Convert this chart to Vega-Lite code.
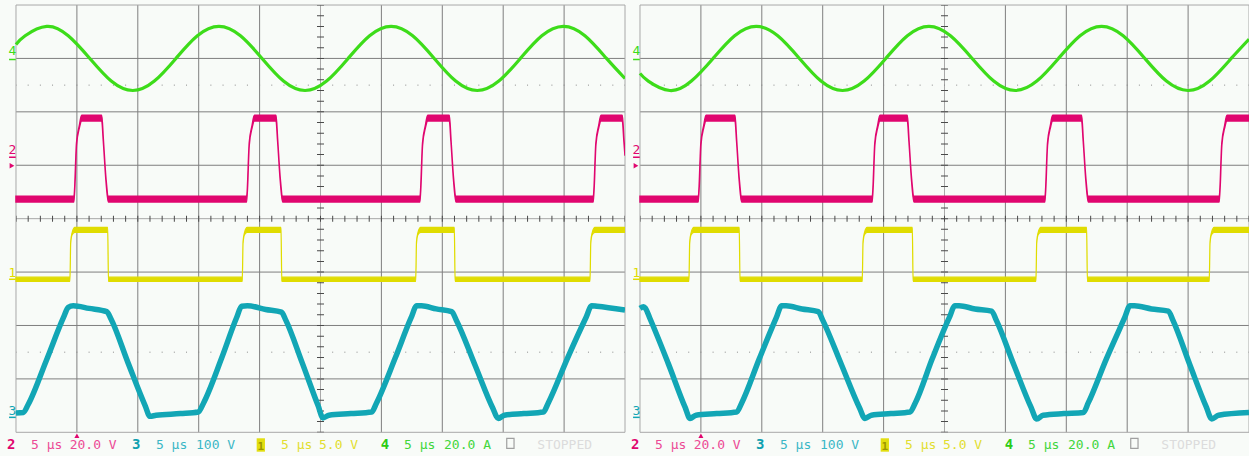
{
"$schema": "https://vega.github.io/schema/vega-lite/v6.json",
"background": "#f8fbf8",
"padding": 0,
"spacing": 0,
"bounds": "flush",
"config": {"view": {"stroke": null}, "concat": {"spacing": 0}},
"datasets": {
"vl": [{"t":5},{"t":10},{"t":15},{"t":20},{"t":30},{"t":35},{"t":40},{"t":45}],
"hl": [{"v":1},{"v":2},{"v":3},{"v":5},{"v":6},{"v":7}],
"fv": [{"t":0},{"t":25},{"t":50}],
"fh": [{"v":0},{"v":4},{"v":8}],
"dots": [{"v":1.5},{"v":6.5}],
"cv": [{"v":4}],
"ct": [{"t":25}],
"chm": [{"ch":"4","txt":"4","v":7.06,"g":6.98},{"ch":"2","txt":"2","v":5.21,"g":5.15},{"ch":"1","txt":"1","v":2.9,"g":2.865},{"ch":"3","txt":"3","v":0.32,"g":0.28}],
"trig": [{"kind":"level","t":-0.33,"v":4.99},{"kind":"pos","t":5,"v":-0.064}],
"nums": [{"t":-0.74,"txt":"2","ch":"2"},{"t":9.52,"txt":"3","ch":"3"},{"t":29.94,"txt":"4","ch":"4"}],
"info": [{"t":1.23,"txt":"5 μs","ch":"2"},{"t":4.41,"txt":"20.0 V","ch":"2"},{"t":11.49,"txt":"5 μs","ch":"3"},{"t":14.78,"txt":"100 V","ch":"3"},{"t":21.76,"txt":"5 μs","ch":"1"},{"t":24.88,"txt":"5.0 V","ch":"1"},{"t":31.86,"txt":"5 μs","ch":"4"},{"t":35.14,"txt":"20.0 A","ch":"4"},{"t":42.8,"txt":"STOPPED","ch":"s"}],
"box1": [{"t":19.76,"t2":20.44,"v":-0.112,"v2":-0.363}],
"box2": [{"t":40.29,"t2":40.89,"v":-0.112,"v2":-0.3}],
"L4": [{"t":0,"v":7.263},{"t":0.75,"v":7.424},{"t":2.52,"v":7.6},{"t":4.29,"v":7.424},{"t":6.06,"v":7.0},{"t":7.82,"v":6.576},{"t":9.59,"v":6.4},{"t":11.36,"v":6.576},{"t":13.13,"v":7.0},{"t":14.89,"v":7.424},{"t":16.66,"v":7.6},{"t":18.43,"v":7.424},{"t":20.2,"v":7.0},{"t":21.96,"v":6.576},{"t":23.73,"v":6.4},{"t":25.5,"v":6.576},{"t":27.27,"v":7.0},{"t":29.03,"v":7.424},{"t":30.8,"v":7.6},{"t":32.57,"v":7.424},{"t":34.34,"v":7.0},{"t":36.1,"v":6.576},{"t":37.87,"v":6.4},{"t":39.64,"v":6.576},{"t":41.41,"v":7.0},{"t":43.17,"v":7.424},{"t":44.94,"v":7.6},{"t":46.71,"v":7.424},{"t":48.48,"v":7.0},{"t":50,"v":6.624}],
"R4": [{"t":0,"v":6.72},{"t":0.68,"v":6.576},{"t":2.45,"v":6.4},{"t":4.22,"v":6.576},{"t":6.0,"v":7.0},{"t":7.77,"v":7.424},{"t":9.54,"v":7.6},{"t":11.31,"v":7.424},{"t":13.09,"v":7.0},{"t":14.86,"v":6.576},{"t":16.63,"v":6.4},{"t":18.4,"v":6.576},{"t":20.18,"v":7.0},{"t":21.95,"v":7.424},{"t":23.72,"v":7.6},{"t":25.49,"v":7.424},{"t":27.27,"v":7.0},{"t":29.04,"v":6.576},{"t":30.81,"v":6.4},{"t":32.58,"v":6.576},{"t":34.36,"v":7.0},{"t":36.13,"v":7.424},{"t":37.9,"v":7.6},{"t":39.67,"v":7.424},{"t":41.45,"v":7.0},{"t":43.22,"v":6.576},{"t":44.99,"v":6.4},{"t":46.76,"v":6.576},{"t":48.54,"v":7.0},{"t":50,"v":7.36}],
"L2": [{"t":0,"lo":4.31,"hi":4.42},{"t":4.76,"lo":4.31,"hi":4.42},{"t":4.97,"lo":5.38,"hi":5.42},{"t":5.2,"lo":5.7,"hi":5.74},{"t":5.39,"lo":5.83,"hi":5.935},{"t":7.04,"lo":5.83,"hi":5.935},{"t":7.17,"lo":5.45,"hi":5.49},{"t":7.39,"lo":4.7,"hi":4.74},{"t":7.58,"lo":4.31,"hi":4.42},{"t":18.94,"lo":4.31,"hi":4.42},{"t":19.15,"lo":5.38,"hi":5.42},{"t":19.38,"lo":5.7,"hi":5.74},{"t":19.57,"lo":5.83,"hi":5.935},{"t":21.35,"lo":5.83,"hi":5.935},{"t":21.48,"lo":5.45,"hi":5.49},{"t":21.7,"lo":4.7,"hi":4.74},{"t":21.89,"lo":4.31,"hi":4.42},{"t":33.17,"lo":4.31,"hi":4.42},{"t":33.38,"lo":5.38,"hi":5.42},{"t":33.61,"lo":5.7,"hi":5.74},{"t":33.8,"lo":5.83,"hi":5.935},{"t":35.58,"lo":5.83,"hi":5.935},{"t":35.71,"lo":5.45,"hi":5.49},{"t":35.93,"lo":4.7,"hi":4.74},{"t":36.12,"lo":4.31,"hi":4.42},{"t":47.4,"lo":4.31,"hi":4.42},{"t":47.61,"lo":5.38,"hi":5.42},{"t":47.84,"lo":5.7,"hi":5.74},{"t":48.03,"lo":5.83,"hi":5.935},{"t":49.78,"lo":5.83,"hi":5.935},{"t":49.91,"lo":5.45,"hi":5.49},{"t":50,"lo":5.18,"hi":5.22}],
"R2": [{"t":0,"lo":4.31,"hi":4.42},{"t":4.79,"lo":4.31,"hi":4.42},{"t":5.0,"lo":5.38,"hi":5.42},{"t":5.23,"lo":5.7,"hi":5.74},{"t":5.42,"lo":5.83,"hi":5.935},{"t":7.8,"lo":5.83,"hi":5.935},{"t":7.93,"lo":5.45,"hi":5.49},{"t":8.15,"lo":4.7,"hi":4.74},{"t":8.34,"lo":4.31,"hi":4.42},{"t":19.07,"lo":4.31,"hi":4.42},{"t":19.28,"lo":5.38,"hi":5.42},{"t":19.51,"lo":5.7,"hi":5.74},{"t":19.7,"lo":5.83,"hi":5.935},{"t":21.95,"lo":5.83,"hi":5.935},{"t":22.08,"lo":5.45,"hi":5.49},{"t":22.3,"lo":4.7,"hi":4.74},{"t":22.49,"lo":4.31,"hi":4.42},{"t":33.25,"lo":4.31,"hi":4.42},{"t":33.46,"lo":5.38,"hi":5.42},{"t":33.69,"lo":5.7,"hi":5.74},{"t":33.88,"lo":5.83,"hi":5.935},{"t":36.26,"lo":5.83,"hi":5.935},{"t":36.39,"lo":5.45,"hi":5.49},{"t":36.61,"lo":4.7,"hi":4.74},{"t":36.8,"lo":4.31,"hi":4.42},{"t":47.56,"lo":4.31,"hi":4.42},{"t":47.77,"lo":5.38,"hi":5.42},{"t":48.0,"lo":5.7,"hi":5.74},{"t":48.19,"lo":5.83,"hi":5.935},{"t":50,"lo":5.83,"hi":5.935}],
"L1": [{"t":0,"lo":2.825,"hi":2.905},{"t":4.43,"lo":2.825,"hi":2.905},{"t":4.49,"lo":3.535,"hi":3.565},{"t":4.61,"lo":3.7,"hi":3.74},{"t":4.83,"lo":3.745,"hi":3.835},{"t":7.53,"lo":3.745,"hi":3.835},{"t":7.59,"lo":2.825,"hi":2.905},{"t":18.58,"lo":2.825,"hi":2.905},{"t":18.64,"lo":3.535,"hi":3.565},{"t":18.76,"lo":3.7,"hi":3.74},{"t":18.98,"lo":3.745,"hi":3.835},{"t":21.76,"lo":3.745,"hi":3.835},{"t":21.82,"lo":2.825,"hi":2.905},{"t":32.82,"lo":2.825,"hi":2.905},{"t":32.88,"lo":3.535,"hi":3.565},{"t":33.0,"lo":3.7,"hi":3.74},{"t":33.22,"lo":3.745,"hi":3.835},{"t":35.99,"lo":3.745,"hi":3.835},{"t":36.05,"lo":2.825,"hi":2.905},{"t":47.13,"lo":2.825,"hi":2.905},{"t":47.19,"lo":3.535,"hi":3.565},{"t":47.31,"lo":3.7,"hi":3.74},{"t":47.53,"lo":3.745,"hi":3.835},{"t":50,"lo":3.745,"hi":3.835}],
"R1": [{"t":0,"lo":2.825,"hi":2.905},{"t":4.02,"lo":2.825,"hi":2.905},{"t":4.08,"lo":3.535,"hi":3.565},{"t":4.2,"lo":3.7,"hi":3.74},{"t":4.42,"lo":3.745,"hi":3.835},{"t":8.15,"lo":3.745,"hi":3.835},{"t":8.21,"lo":2.825,"hi":2.905},{"t":18.25,"lo":2.825,"hi":2.905},{"t":18.31,"lo":3.535,"hi":3.565},{"t":18.43,"lo":3.7,"hi":3.74},{"t":18.65,"lo":3.745,"hi":3.835},{"t":22.36,"lo":3.745,"hi":3.835},{"t":22.42,"lo":2.825,"hi":2.905},{"t":32.51,"lo":2.825,"hi":2.905},{"t":32.57,"lo":3.535,"hi":3.565},{"t":32.69,"lo":3.7,"hi":3.74},{"t":32.91,"lo":3.745,"hi":3.835},{"t":36.67,"lo":3.745,"hi":3.835},{"t":36.73,"lo":2.825,"hi":2.905},{"t":46.74,"lo":2.825,"hi":2.905},{"t":46.8,"lo":3.535,"hi":3.565},{"t":46.92,"lo":3.7,"hi":3.74},{"t":47.14,"lo":3.745,"hi":3.835},{"t":50,"lo":3.745,"hi":3.835}],
"L3": [{"t":0,"v":0.36},{"t":0.6,"v":0.37},{"t":1.0,"v":0.52},{"t":2.5,"v":1.35},{"t":3.9,"v":2.15},{"t":4.29,"v":2.34},{"t":4.7,"v":2.37},{"t":6.0,"v":2.32},{"t":7.45,"v":2.26},{"t":7.8,"v":2.12},{"t":9.2,"v":1.3},{"t":10.6,"v":0.5},{"t":11.0,"v":0.3},{"t":11.5,"v":0.32},{"t":13.5,"v":0.35},{"t":14.97,"v":0.38},{"t":15.4,"v":0.55},{"t":16.9,"v":1.4},{"t":18.1,"v":2.14},{"t":18.53,"v":2.36},{"t":19.0,"v":2.37},{"t":20.5,"v":2.3},{"t":21.8,"v":2.25},{"t":22.15,"v":2.1},{"t":23.5,"v":1.3},{"t":24.8,"v":0.5},{"t":25.2,"v":0.27},{"t":25.7,"v":0.32},{"t":27.5,"v":0.35},{"t":29.2,"v":0.38},{"t":29.6,"v":0.55},{"t":31.15,"v":1.4},{"t":32.45,"v":2.15},{"t":32.9,"v":2.37},{"t":33.3,"v":2.37},{"t":34.5,"v":2.31},{"t":35.77,"v":2.26},{"t":36.15,"v":2.1},{"t":37.7,"v":1.25},{"t":39.15,"v":0.45},{"t":39.6,"v":0.26},{"t":40.1,"v":0.32},{"t":41.7,"v":0.35},{"t":43.3,"v":0.38},{"t":43.7,"v":0.55},{"t":45.3,"v":1.4},{"t":46.8,"v":2.15},{"t":47.27,"v":2.37},{"t":47.7,"v":2.36},{"t":50,"v":2.29}],
"R3": [{"t":0,"v":2.32},{"t":0.3,"v":2.35},{"t":0.45,"v":2.32},{"t":0.8,"v":2.14},{"t":2.3,"v":1.3},{"t":3.7,"v":0.47},{"t":4.11,"v":0.26},{"t":4.6,"v":0.32},{"t":6.3,"v":0.35},{"t":7.94,"v":0.38},{"t":8.35,"v":0.55},{"t":9.8,"v":1.38},{"t":11.2,"v":2.15},{"t":11.63,"v":2.37},{"t":12.0,"v":2.37},{"t":13.3,"v":2.31},{"t":14.64,"v":2.26},{"t":15.0,"v":2.1},{"t":16.55,"v":1.26},{"t":18.0,"v":0.47},{"t":18.47,"v":0.26},{"t":19.0,"v":0.32},{"t":20.6,"v":0.35},{"t":22.17,"v":0.38},{"t":22.6,"v":0.55},{"t":24.0,"v":1.38},{"t":25.4,"v":2.15},{"t":25.86,"v":2.37},{"t":26.2,"v":2.37},{"t":27.5,"v":2.31},{"t":28.87,"v":2.27},{"t":29.25,"v":2.1},{"t":30.7,"v":1.26},{"t":32.1,"v":0.47},{"t":32.57,"v":0.25},{"t":33.1,"v":0.32},{"t":34.8,"v":0.35},{"t":36.4,"v":0.37},{"t":36.8,"v":0.55},{"t":38.3,"v":1.38},{"t":39.8,"v":2.15},{"t":40.23,"v":2.37},{"t":40.6,"v":2.37},{"t":42.0,"v":2.31},{"t":43.38,"v":2.27},{"t":43.75,"v":2.1},{"t":45.15,"v":1.26},{"t":46.5,"v":0.47},{"t":46.94,"v":0.25},{"t":47.5,"v":0.32},{"t":50,"v":0.37}]
},
"hconcat": [
{
"width": 625, "height": 456,
"resolve": {"scale": {"color": "independent"}},
"layer": [
 {"data":{"name":"vl"},"mark":{"type":"rule","color":"#7f7f7f","strokeWidth":1},"encoding":{"x":{"field":"t","type":"quantitative","scale":{"domain":[-1.3136,50],"nice":false,"zero":false},"axis":null},"y":{"datum":0,"type":"quantitative","scale":{"domain":[-0.4437,8.094],"nice":false,"zero":false},"axis":null},"y2":{"datum":8}}},
 {"data":{"name":"hl"},"mark":{"type":"rule","color":"#7f7f7f","strokeWidth":1},"encoding":{"x":{"datum":0,"type":"quantitative","axis":null},"x2":{"datum":50},"y":{"field":"v","type":"quantitative","axis":null}}},
 {"data":{"name":"fv"},"mark":{"type":"rule","color":"#a8a8a8","strokeWidth":1},"encoding":{"x":{"field":"t","type":"quantitative","axis":null},"y":{"datum":0,"type":"quantitative","axis":null},"y2":{"datum":8}}},
 {"data":{"name":"fh"},"mark":{"type":"rule","color":"#a8a8a8","strokeWidth":1},"encoding":{"x":{"datum":0,"type":"quantitative","axis":null},"x2":{"datum":50},"y":{"field":"v","type":"quantitative","axis":null}}},
 {"data":{"name":"dots"},"mark":{"type":"rule","color":"#8a8a8a","strokeWidth":1,"strokeDash":[1,11.18],"strokeDashOffset":0.5},"encoding":{"x":{"datum":0,"type":"quantitative","axis":null},"x2":{"datum":50},"y":{"field":"v","type":"quantitative","axis":null}}},
 {"data":{"name":"cv"},"mark":{"type":"rule","color":"#4a4a4a","strokeWidth":6,"strokeDash":[1,11.18],"strokeDashOffset":0.5},"encoding":{"x":{"datum":0,"type":"quantitative","axis":null},"x2":{"datum":50},"y":{"field":"v","type":"quantitative","axis":null}}},
 {"data":{"name":"ct"},"mark":{"type":"rule","color":"#4a4a4a","strokeWidth":7,"strokeDash":[1,9.682],"strokeDashOffset":0.5},"encoding":{"x":{"field":"t","type":"quantitative","axis":null},"y":{"datum":0,"type":"quantitative","axis":null},"y2":{"datum":8}}},
 {"data":{"name":"L4"},"mark":{"type":"line","color":"#3ddc1a","strokeWidth":3.2,"interpolate":"natural","clip":true},"encoding":{"x":{"field":"t","type":"quantitative","axis":null},"y":{"field":"v","type":"quantitative","axis":null}}},
 {"data":{"name":"L2"},"mark":{"type":"area","color":"#e0066f","stroke":"#e0066f","strokeWidth":1.5,"opacity":1,"fillOpacity":1,"interpolate":"monotone","clip":true},"encoding":{"x":{"field":"t","type":"quantitative","axis":null},"y":{"field":"lo","type":"quantitative","axis":null},"y2":{"field":"hi"}}},
 {"data":{"name":"L1"},"mark":{"type":"area","color":"#e0dc00","stroke":"#e0dc00","strokeWidth":1.2,"opacity":1,"fillOpacity":1,"interpolate":"monotone","clip":true},"encoding":{"x":{"field":"t","type":"quantitative","axis":null},"y":{"field":"lo","type":"quantitative","axis":null},"y2":{"field":"hi"}}},
 {"data":{"name":"L3"},"mark":{"type":"line","color":"#12a6b5","strokeWidth":5.5,"interpolate":"monotone","clip":true},"encoding":{"x":{"field":"t","type":"quantitative","axis":null},"y":{"field":"v","type":"quantitative","axis":null}}},
 {"data":{"name":"chm"},"mark":{"type":"text","font":"DejaVu Sans Mono","fontSize":13,"align":"center","baseline":"alphabetic"},"encoding":{"x":{"datum":-0.29,"type":"quantitative","axis":null},"y":{"field":"v","type":"quantitative","axis":null},"text":{"field":"txt"},"color":{"field":"ch","type":"nominal","scale":{"domain":["1","2","3","4"],"range":["#e0dc00","#e0066f","#12a6b5","#3ddc1a"]},"legend":null}}},
 {"data":{"name":"chm"},"mark":{"type":"rule","strokeWidth":1.5},"encoding":{"x":{"datum":-0.57,"type":"quantitative","axis":null},"x2":{"datum":-0.02},"y":{"field":"g","type":"quantitative","axis":null},"color":{"field":"ch","type":"nominal","scale":{"domain":["1","2","3","4"],"range":["#e0dc00","#e0066f","#12a6b5","#3ddc1a"]},"legend":null}}},
 {"data":{"name":"trig"},"transform":[{"filter":"datum.kind == 'level'"}],"mark":{"type":"point","shape":"triangle-right","filled":true,"size":30,"color":"#e0066f","opacity":1},"encoding":{"x":{"field":"t","type":"quantitative","axis":null},"y":{"field":"v","type":"quantitative","axis":null}}},
 {"data":{"name":"trig"},"transform":[{"filter":"datum.kind == 'pos'"}],"mark":{"type":"point","shape":"triangle-up","filled":true,"size":25,"color":"#e0066f","opacity":1},"encoding":{"x":{"field":"t","type":"quantitative","axis":null},"y":{"field":"v","type":"quantitative","axis":null}}},
 {"data":{"name":"nums"},"mark":{"type":"text","font":"DejaVu Sans Mono","fontSize":14,"fontWeight":"bold","align":"left","baseline":"alphabetic"},"encoding":{"x":{"field":"t","type":"quantitative","axis":null},"y":{"datum":-0.31,"type":"quantitative","axis":null},"text":{"field":"txt"},"color":{"field":"ch","type":"nominal","scale":{"domain":["1","2","3","4"],"range":["#e0dc00","#e0066f","#0fa0b0","#2ccc14"]},"legend":null}}},
 {"data":{"name":"info"},"mark":{"type":"text","font":"DejaVu Sans Mono","fontSize":13,"align":"left","baseline":"alphabetic"},"encoding":{"x":{"field":"t","type":"quantitative","axis":null},"y":{"datum":-0.305,"type":"quantitative","axis":null},"text":{"field":"txt"},"color":{"field":"ch","type":"nominal","scale":{"domain":["1","2","3","4","s"],"range":["#e2de30","#ec4a95","#3ab7c6","#42d63c","#dcdcdc"]},"legend":null}}},
 {"data":{"name":"box1"},"mark":{"type":"rect","color":"#e2de10"},"encoding":{"x":{"field":"t","type":"quantitative","axis":null},"x2":{"field":"t2"},"y":{"field":"v","type":"quantitative","axis":null},"y2":{"field":"v2"}}},
 {"data":{"name":"box1"},"mark":{"type":"text","font":"DejaVu Sans Mono","fontSize":11,"fontWeight":"bold","align":"center","baseline":"alphabetic","color":"#9c9600"},"encoding":{"x":{"datum":20.1,"type":"quantitative","axis":null},"y":{"datum":-0.33,"type":"quantitative","axis":null},"text":{"value":"1"}}},
 {"data":{"name":"box2"},"mark":{"type":"rect","filled":false,"color":"#a0a0a0","strokeWidth":1.2},"encoding":{"x":{"field":"t","type":"quantitative","axis":null},"x2":{"field":"t2"},"y":{"field":"v","type":"quantitative","axis":null},"y2":{"field":"v2"}}}
]
},
{
"width": 624, "height": 456,
"resolve": {"scale": {"color": "independent"}},
"layer": [
 {"data":{"name":"vl"},"mark":{"type":"rule","color":"#7f7f7f","strokeWidth":1,"clip":true},"encoding":{"x":{"field":"t","type":"quantitative","scale":{"domain":[-1.2315,50],"nice":false,"zero":false},"axis":null},"y":{"datum":0,"type":"quantitative","scale":{"domain":[-0.4437,8.094],"nice":false,"zero":false},"axis":null},"y2":{"datum":8}}},
 {"data":{"name":"hl"},"mark":{"type":"rule","color":"#7f7f7f","strokeWidth":1,"clip":true},"encoding":{"x":{"datum":0,"type":"quantitative","axis":null},"x2":{"datum":50},"y":{"field":"v","type":"quantitative","axis":null}}},
 {"data":{"name":"fv"},"mark":{"type":"rule","color":"#a8a8a8","strokeWidth":1,"clip":true},"encoding":{"x":{"field":"t","type":"quantitative","axis":null},"y":{"datum":0,"type":"quantitative","axis":null},"y2":{"datum":8}}},
 {"data":{"name":"fh"},"mark":{"type":"rule","color":"#a8a8a8","strokeWidth":1,"clip":true},"encoding":{"x":{"datum":0,"type":"quantitative","axis":null},"x2":{"datum":50},"y":{"field":"v","type":"quantitative","axis":null}}},
 {"data":{"name":"dots"},"mark":{"type":"rule","color":"#8a8a8a","strokeWidth":1,"strokeDash":[1,11.18],"strokeDashOffset":0.5,"clip":true},"encoding":{"x":{"datum":0,"type":"quantitative","axis":null},"x2":{"datum":50},"y":{"field":"v","type":"quantitative","axis":null}}},
 {"data":{"name":"cv"},"mark":{"type":"rule","color":"#4a4a4a","strokeWidth":6,"strokeDash":[1,11.18],"strokeDashOffset":0.5,"clip":true},"encoding":{"x":{"datum":0,"type":"quantitative","axis":null},"x2":{"datum":50},"y":{"field":"v","type":"quantitative","axis":null}}},
 {"data":{"name":"ct"},"mark":{"type":"rule","color":"#4a4a4a","strokeWidth":7,"strokeDash":[1,9.682],"strokeDashOffset":0.5,"clip":true},"encoding":{"x":{"field":"t","type":"quantitative","axis":null},"y":{"datum":0,"type":"quantitative","axis":null},"y2":{"datum":8}}},
 {"data":{"name":"R4"},"mark":{"type":"line","color":"#3ddc1a","strokeWidth":3.2,"interpolate":"natural","clip":true},"encoding":{"x":{"field":"t","type":"quantitative","axis":null},"y":{"field":"v","type":"quantitative","axis":null}}},
 {"data":{"name":"R2"},"mark":{"type":"area","color":"#e0066f","stroke":"#e0066f","strokeWidth":1.5,"opacity":1,"fillOpacity":1,"interpolate":"monotone","clip":true},"encoding":{"x":{"field":"t","type":"quantitative","axis":null},"y":{"field":"lo","type":"quantitative","axis":null},"y2":{"field":"hi"}}},
 {"data":{"name":"R1"},"mark":{"type":"area","color":"#e0dc00","stroke":"#e0dc00","strokeWidth":1.2,"opacity":1,"fillOpacity":1,"interpolate":"monotone","clip":true},"encoding":{"x":{"field":"t","type":"quantitative","axis":null},"y":{"field":"lo","type":"quantitative","axis":null},"y2":{"field":"hi"}}},
 {"data":{"name":"R3"},"mark":{"type":"line","color":"#12a6b5","strokeWidth":5.5,"interpolate":"monotone","clip":true},"encoding":{"x":{"field":"t","type":"quantitative","axis":null},"y":{"field":"v","type":"quantitative","axis":null}}},
 {"data":{"name":"chm"},"mark":{"type":"text","font":"DejaVu Sans Mono","fontSize":13,"align":"center","baseline":"alphabetic"},"encoding":{"x":{"datum":-0.29,"type":"quantitative","axis":null},"y":{"field":"v","type":"quantitative","axis":null},"text":{"field":"txt"},"color":{"field":"ch","type":"nominal","scale":{"domain":["1","2","3","4"],"range":["#e0dc00","#e0066f","#12a6b5","#3ddc1a"]},"legend":null}}},
 {"data":{"name":"chm"},"mark":{"type":"rule","strokeWidth":1.5},"encoding":{"x":{"datum":-0.57,"type":"quantitative","axis":null},"x2":{"datum":-0.02},"y":{"field":"g","type":"quantitative","axis":null},"color":{"field":"ch","type":"nominal","scale":{"domain":["1","2","3","4"],"range":["#e0dc00","#e0066f","#12a6b5","#3ddc1a"]},"legend":null}}},
 {"data":{"name":"trig"},"transform":[{"filter":"datum.kind == 'level'"}],"mark":{"type":"point","shape":"triangle-right","filled":true,"size":30,"color":"#e0066f","opacity":1},"encoding":{"x":{"field":"t","type":"quantitative","axis":null},"y":{"field":"v","type":"quantitative","axis":null}}},
 {"data":{"name":"trig"},"transform":[{"filter":"datum.kind == 'pos'"}],"mark":{"type":"point","shape":"triangle-up","filled":true,"size":25,"color":"#e0066f","opacity":1},"encoding":{"x":{"field":"t","type":"quantitative","axis":null},"y":{"field":"v","type":"quantitative","axis":null}}},
 {"data":{"name":"nums"},"mark":{"type":"text","font":"DejaVu Sans Mono","fontSize":14,"fontWeight":"bold","align":"left","baseline":"alphabetic"},"encoding":{"x":{"field":"t","type":"quantitative","axis":null},"y":{"datum":-0.31,"type":"quantitative","axis":null},"text":{"field":"txt"},"color":{"field":"ch","type":"nominal","scale":{"domain":["1","2","3","4"],"range":["#e0dc00","#e0066f","#0fa0b0","#2ccc14"]},"legend":null}}},
 {"data":{"name":"info"},"mark":{"type":"text","font":"DejaVu Sans Mono","fontSize":13,"align":"left","baseline":"alphabetic"},"encoding":{"x":{"field":"t","type":"quantitative","axis":null},"y":{"datum":-0.305,"type":"quantitative","axis":null},"text":{"field":"txt"},"color":{"field":"ch","type":"nominal","scale":{"domain":["1","2","3","4","s"],"range":["#e2de30","#ec4a95","#3ab7c6","#42d63c","#dcdcdc"]},"legend":null}}},
 {"data":{"name":"box1"},"mark":{"type":"rect","color":"#e2de10"},"encoding":{"x":{"field":"t","type":"quantitative","axis":null},"x2":{"field":"t2"},"y":{"field":"v","type":"quantitative","axis":null},"y2":{"field":"v2"}}},
 {"data":{"name":"box1"},"mark":{"type":"text","font":"DejaVu Sans Mono","fontSize":11,"fontWeight":"bold","align":"center","baseline":"alphabetic","color":"#9c9600"},"encoding":{"x":{"datum":20.1,"type":"quantitative","axis":null},"y":{"datum":-0.33,"type":"quantitative","axis":null},"text":{"value":"1"}}},
 {"data":{"name":"box2"},"mark":{"type":"rect","filled":false,"color":"#a0a0a0","strokeWidth":1.2},"encoding":{"x":{"field":"t","type":"quantitative","axis":null},"x2":{"field":"t2"},"y":{"field":"v","type":"quantitative","axis":null},"y2":{"field":"v2"}}}
]
}
]
}
